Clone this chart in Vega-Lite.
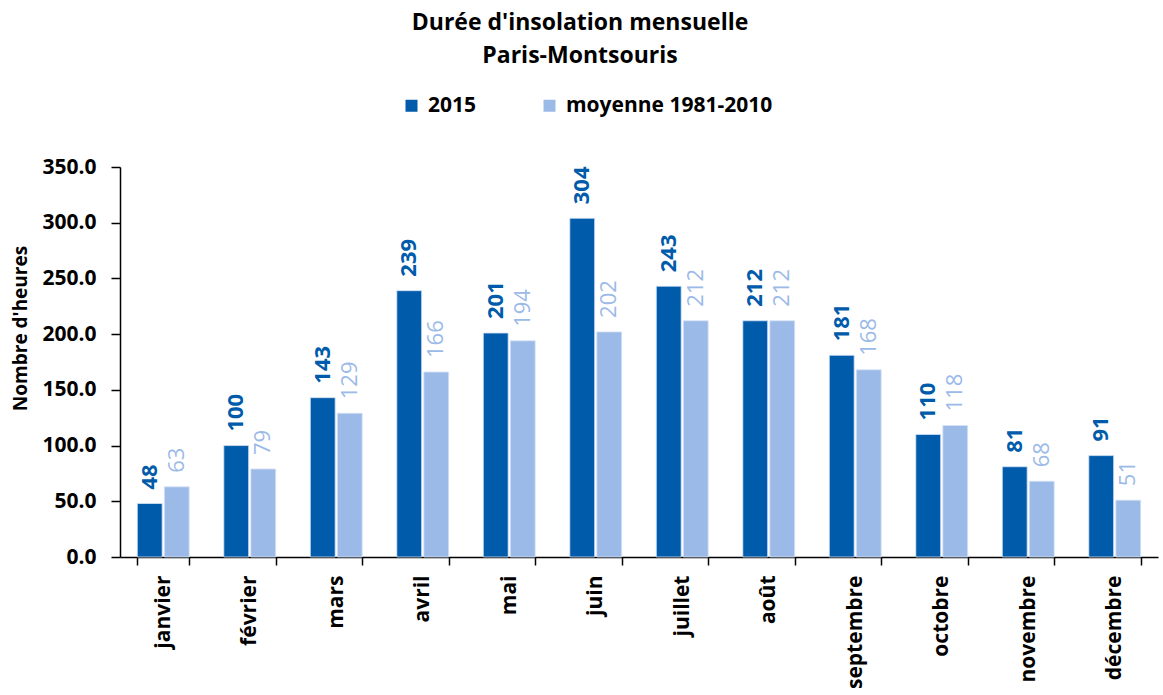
{
  "$schema": "https://vega.github.io/schema/vega-lite/v6.json",
  "width": 1038,
  "height": 390,
  "autosize": {"type": "none"},
  "padding": {"left": 120, "top": 167, "right": 5, "bottom": 138},
  "background": "white",
  "config": {"font": "Open Sans", "view": {"stroke": null}},
  "title": {
    "text": ["Durée d'insolation mensuelle", "Paris-Montsouris"],
    "fontSize": 23,
    "fontWeight": "bold",
    "color": "black",
    "anchor": "middle",
    "frame": "group",
    "dx": -59,
    "lineHeight": 33,
    "offset": 27
  },
  "data": {
    "values": [
      {"month": "janvier", "series": "2015", "hours": 48},
      {"month": "février", "series": "2015", "hours": 100},
      {"month": "mars", "series": "2015", "hours": 143},
      {"month": "avril", "series": "2015", "hours": 239},
      {"month": "mai", "series": "2015", "hours": 201},
      {"month": "juin", "series": "2015", "hours": 304},
      {"month": "juillet", "series": "2015", "hours": 243},
      {"month": "août", "series": "2015", "hours": 212},
      {"month": "septembre", "series": "2015", "hours": 181},
      {"month": "octobre", "series": "2015", "hours": 110},
      {"month": "novembre", "series": "2015", "hours": 81},
      {"month": "décembre", "series": "2015", "hours": 91},
      {"month": "janvier", "series": "moyenne 1981-2010", "hours": 63},
      {"month": "février", "series": "moyenne 1981-2010", "hours": 79},
      {"month": "mars", "series": "moyenne 1981-2010", "hours": 129},
      {"month": "avril", "series": "moyenne 1981-2010", "hours": 166},
      {"month": "mai", "series": "moyenne 1981-2010", "hours": 194},
      {"month": "juin", "series": "moyenne 1981-2010", "hours": 202},
      {"month": "juillet", "series": "moyenne 1981-2010", "hours": 212},
      {"month": "août", "series": "moyenne 1981-2010", "hours": 212},
      {"month": "septembre", "series": "moyenne 1981-2010", "hours": 168},
      {"month": "octobre", "series": "moyenne 1981-2010", "hours": 118},
      {"month": "novembre", "series": "moyenne 1981-2010", "hours": 68},
      {"month": "décembre", "series": "moyenne 1981-2010", "hours": 51}
    ]
  },
  "encoding": {
    "x": {
      "field": "month",
      "type": "nominal",
      "sort": ["janvier", "février", "mars", "avril", "mai", "juin", "juillet", "août", "septembre", "octobre", "novembre", "décembre"],
      "scale": {"paddingInner": 0.4, "paddingOuter": 0.2},
      "axis": {
        "title": null,
        "labelAngle": 270,
        "labelFontSize": 21,
        "labelFontWeight": "bold",
        "labelColor": "black",
        "labelPadding": 10,
        "tickBand": "extent",
        "tickSize": 8,
        "tickColor": "black",
        "domainColor": "black",
        "tickWidth": 1.5,
        "domainWidth": 1.5
      }
    },
    "xOffset": {
      "field": "series",
      "type": "nominal",
      "scale": {"paddingInner": 0.08}
    },
    "y": {
      "field": "hours",
      "type": "quantitative",
      "scale": {"domain": [0, 350]},
      "axis": {
        "values": [0, 50, 100, 150, 200, 250, 300, 350],
        "format": ".1f",
        "grid": false,
        "title": "Nombre d'heures",
        "titleFontSize": 19,
        "titleFontWeight": "bold",
        "titleColor": "black",
        "titleBaseline": "middle",
        "titleX": -100,
        "titleY": 161,
        "labelFontSize": 21,
        "labelFontWeight": "bold",
        "labelColor": "black",
        "labelPadding": 15,
        "tickSize": 9,
        "tickColor": "black",
        "domainColor": "black",
        "tickWidth": 1.5,
        "domainWidth": 1.5
      }
    },
    "color": {
      "field": "series",
      "type": "nominal",
      "scale": {"domain": ["2015", "moyenne 1981-2010"], "range": ["#005BAA", "#9CBAE8"]},
      "legend": {
        "title": null,
        "orient": "none",
        "legendX": 281,
        "legendY": -72,
        "direction": "horizontal",
        "symbolType": "square",
        "symbolSize": 144,
        "symbolStrokeWidth": 0,
        "labelFontSize": 21,
        "labelFontWeight": "bold",
        "labelColor": "black",
        "labelOffset": 6,
        "labelLimit": 0,
        "columnPadding": 62
      }
    }
  },
  "layer": [
    {"mark": {"type": "bar", "stroke": "#D6E2F5", "strokeWidth": 0.8}},
    {
      "transform": [{"filter": "datum.series === '2015'"}],
      "mark": {"type": "text", "angle": 270, "align": "left", "baseline": "middle", "dx": 14, "fontSize": 22, "fontWeight": "bold"},
      "encoding": {"text": {"field": "hours", "type": "quantitative"}}
    },
    {
      "transform": [{"filter": "datum.series !== '2015'"}],
      "mark": {"type": "text", "angle": 270, "align": "left", "baseline": "middle", "dx": 14, "fontSize": 22, "fontWeight": "normal"},
      "encoding": {"text": {"field": "hours", "type": "quantitative"}}
    }
  ]
}
